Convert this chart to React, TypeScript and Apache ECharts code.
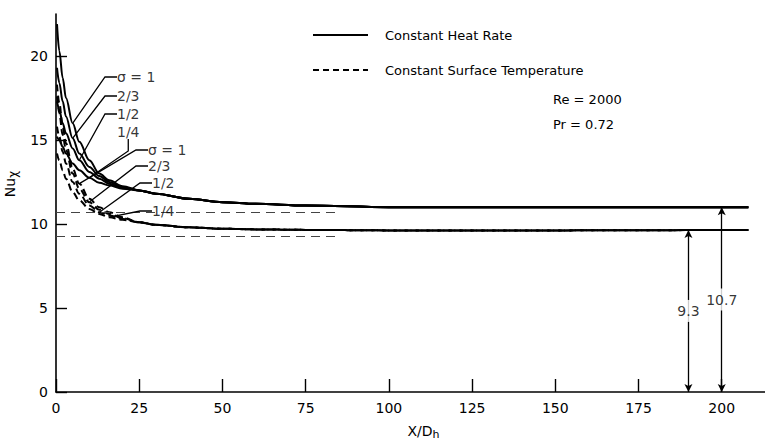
import React, { useEffect, useRef } from "react";
import * as echarts from "echarts";

// x/Dh sample positions shared by all curves
const xs = [0.3, 1, 2, 3, 5, 7, 10, 13, 16, 20, 25, 30, 40, 50, 60, 75, 100, 150, 208];

// Constant heat rate (solid)
const heatSigma1 = [21.9, 20.3, 18.7, 17.5, 16.0, 14.9, 13.8, 13.0, 12.6, 12.25, 12.0, 11.8, 11.5, 11.3, 11.2, 11.1, 11.0, 11.0, 11.0];
const heatSigma23 = [19.3, 18.4, 17.3, 16.4, 15.1, 14.2, 13.4, 12.85, 12.5, 12.2, 12.0, 11.8, 11.5, 11.3, 11.2, 11.1, 11.0, 11.0, 11.0];
const heatSigma12 = [17.3, 16.8, 16.0, 15.4, 14.5, 13.8, 13.1, 12.7, 12.4, 12.15, 12.0, 11.8, 11.5, 11.3, 11.2, 11.1, 11.0, 11.0, 11.0];
const heatSigma14 = [15.2, 15.0, 14.6, 14.2, 13.6, 13.2, 12.75, 12.45, 12.3, 12.1, 12.0, 11.8, 11.5, 11.3, 11.2, 11.1, 11.0, 11.0, 11.0];

// Constant surface temperature (dashed)
const tempSigma1 = [18.3, 17.2, 15.8, 14.8, 13.3, 12.4, 11.5, 11.0, 10.7, 10.4, 10.1, 9.95, 9.8, 9.72, 9.68, 9.65, 9.62, 9.62, 9.65];
const tempSigma23 = [17.6, 16.6, 15.3, 14.4, 13.0, 12.1, 11.3, 10.85, 10.6, 10.35, 10.1, 9.95, 9.8, 9.72, 9.68, 9.65, 9.62, 9.62, 9.65];
const tempSigma12 = [15.8, 15.2, 14.3, 13.6, 12.5, 11.8, 11.1, 10.7, 10.5, 10.3, 10.1, 9.95, 9.8, 9.72, 9.68, 9.65, 9.62, 9.62, 9.65];
const tempSigma14 = [14.2, 13.8, 13.2, 12.7, 11.9, 11.4, 10.9, 10.6, 10.4, 10.25, 10.1, 9.95, 9.8, 9.72, 9.68, 9.65, 9.62, 9.62, 9.65];

// Fully developed reference values
const refValues = [10.7, 9.3];
const refXEnd = 85;

// Dimension arrows
const arrowX = [190, 200];
const arrowTop = [9.65, 11.0];
const arrowLabels = ["9.3", "10.7"];

// Axis ticks
const xTicks = [0, 25, 50, 75, 100, 125, 150, 175, 200];
const yTicks = [0, 5, 10, 15, 20];

// Curve annotations (sigma labels)
const annotLabels = ["σ = 1", "2/3", "1/2", "1/4", "σ = 1", "2/3", "1/2", "1/4"];
const annotCurves = [heatSigma1, heatSigma23, heatSigma12, heatSigma14, tempSigma1, tempSigma23, tempSigma12, tempSigma14];
const annotIndex = [4, 4, 5, 6, 5, 6, 7, 8];
const annotPos = [[117, 77], [117, 96], [117, 114], [117, 132], [148, 150], [148, 166], [152, 183], [152, 211]];

const FONT = "DejaVu Sans";

export default function App() {
  const ref = useRef<HTMLDivElement>(null);
  useEffect(() => {
    if (!ref.current) return;
    const chart = echarts.init(ref.current, undefined, { renderer: "svg" });
    const pair = (arr: number[]) => xs.map((x, i) => [x, arr[i]]);
    const curveSeries = (name: string, arr: number[], dashed: boolean) => ({
      name,
      type: "line",
      data: pair(arr),
      smooth: 0.35,
      smoothMonotone: "x",
      showSymbol: false,
      symbol: "none",
      lineStyle: { color: "#000", width: 2, type: dashed ? [7, 4] : "solid" },
      z: 3,
    });
    const option: any = {
      animation: false,
      backgroundColor: "#fff",
      grid: { left: 56, right: 0, top: 14, bottom: 55, containLabel: false, outerBoundsMode: "none" },
      xAxis: {
        type: "value",
        min: 0,
        max: 213,
        interval: 25,
        name: "X/D{s|h}",
        nameLocation: "middle",
        nameGap: 30,
        nameTextStyle: {
          color: "#000",
          fontFamily: FONT,
          fontSize: 14,
          padding: [0, 0, 0, 26],
          rich: { s: { fontFamily: FONT, fontSize: 11, padding: [7, 0, 0, 0], color: "#000" } },
        },
        axisLine: { show: true, lineStyle: { color: "#000", width: 1.6 } },
        axisTick: { show: true, inside: true, length: 13, customValues: xTicks, lineStyle: { color: "#000", width: 1.4 } },
        axisLabel: { customValues: xTicks, color: "#000", fontFamily: FONT, fontSize: 14, margin: 9 },
        splitLine: { show: false },
      },
      yAxis: {
        type: "value",
        min: 0,
        max: 22.5,
        interval: 5,
        name: "Nu{s|χ}",
        nameLocation: "middle",
        nameGap: 36,
        nameTextStyle: {
          color: "#000",
          fontFamily: FONT,
          fontSize: 14,
          padding: [0, 0, 0, 38],
          rich: { s: { fontFamily: FONT, fontSize: 12, padding: [6, 0, 0, 0], color: "#000" } },
        },
        axisLine: { show: true, lineStyle: { color: "#000", width: 1.6 } },
        axisTick: { show: true, inside: true, length: 11, customValues: yTicks, lineStyle: { color: "#000", width: 1.4 } },
        axisLabel: { customValues: yTicks, color: "#000", fontFamily: FONT, fontSize: 14, margin: 8 },
        splitLine: { show: false },
      },
      graphic: [
        { type: "line", shape: { x1: 313, y1: 35, x2: 368, y2: 35 }, style: { stroke: "#000", lineWidth: 2 } },
        { type: "text", x: 385, y: 35, style: { text: "Constant Heat Rate", font: `13px "${FONT}"`, fill: "#000", verticalAlign: "middle" } },
        { type: "line", shape: { x1: 313, y1: 70, x2: 368, y2: 70 }, style: { stroke: "#000", lineWidth: 2, lineDash: [6, 4] } },
        { type: "text", x: 385, y: 70, style: { text: "Constant Surface Temperature", font: `13px "${FONT}"`, fill: "#000", verticalAlign: "middle" } },
        { type: "text", x: 553, y: 99, style: { text: "Re = 2000", font: `13px "${FONT}"`, fill: "#000", verticalAlign: "middle" } },
        { type: "text", x: 553, y: 124, style: { text: "Pr = 0.72", font: `13px "${FONT}"`, fill: "#000", verticalAlign: "middle" } },
      ],
      series: [
        curveSeries("heat1", heatSigma1, false),
        curveSeries("heat23", heatSigma23, false),
        curveSeries("heat12", heatSigma12, false),
        curveSeries("heat14", heatSigma14, false),
        curveSeries("temp1", tempSigma1, true),
        curveSeries("temp23", tempSigma23, true),
        curveSeries("temp12", tempSigma12, true),
        curveSeries("temp14", tempSigma14, true),
        {
          name: "refs",
          type: "line",
          data: [],
          silent: true,
          markLine: {
            silent: true,
            symbol: ["none", "none"],
            label: { show: false },
            lineStyle: { color: "#444", width: 1, type: [9, 6] },
            data: refValues.map((v) => [{ coord: [0, v] }, { coord: [refXEnd, v] }]),
          },
        },
        {
          name: "arrows",
          type: "line",
          data: [],
          silent: true,
          markLine: {
            silent: true,
            symbol: ["arrow", "arrow"],
            symbolSize: [6, 8],
            label: { show: false },
            lineStyle: { color: "#000", width: 1.3, type: "solid" },
            data: arrowX.map((x, i) => [{ coord: [x, 0] }, { coord: [x, arrowTop[i]] }]),
          },
        },
        {
          name: "arrowLabels",
          type: "scatter",
          symbolSize: 0,
          z: 10,
          data: arrowX.map((x, i) => ({ value: [x, arrowTop[i] / 2], name: arrowLabels[i] })),
          label: {
            show: true,
            position: "inside",
            formatter: (p: any) => p.name,
            color: "#000",
            fontFamily: FONT,
            fontSize: 14,
            backgroundColor: "#fff",
            padding: [4, 1],
          },
        },
        {
          name: "annot",
          type: "scatter",
          symbolSize: 1,
          itemStyle: { color: "transparent" },
          z: 10,
          data: annotCurves.map((c, i) => ({ value: [xs[annotIndex[i]], c[annotIndex[i]]], name: annotLabels[i] })),
          label: {
            show: true,
            position: "right",
            formatter: (p: any) => p.name,
            color: "#000",
            fontFamily: FONT,
            fontSize: 14,
          },
          labelLine: { show: true, length2: 12, lineStyle: { color: "#000", width: 1.3 } },
          labelLayout: (p: any) => ({
            x: annotPos[p.dataIndex][0],
            y: annotPos[p.dataIndex][1],
            align: "left",
            verticalAlign: "middle",
          }),
        },
      ],
    };
    chart.setOption(option);
    return () => chart.dispose();
  }, []);
  return (
    <div
      ref={ref}
      style={{ position: "fixed", left: 0, top: 0, width: 765, height: 447, background: "#fff" }}
    />
  );
}
